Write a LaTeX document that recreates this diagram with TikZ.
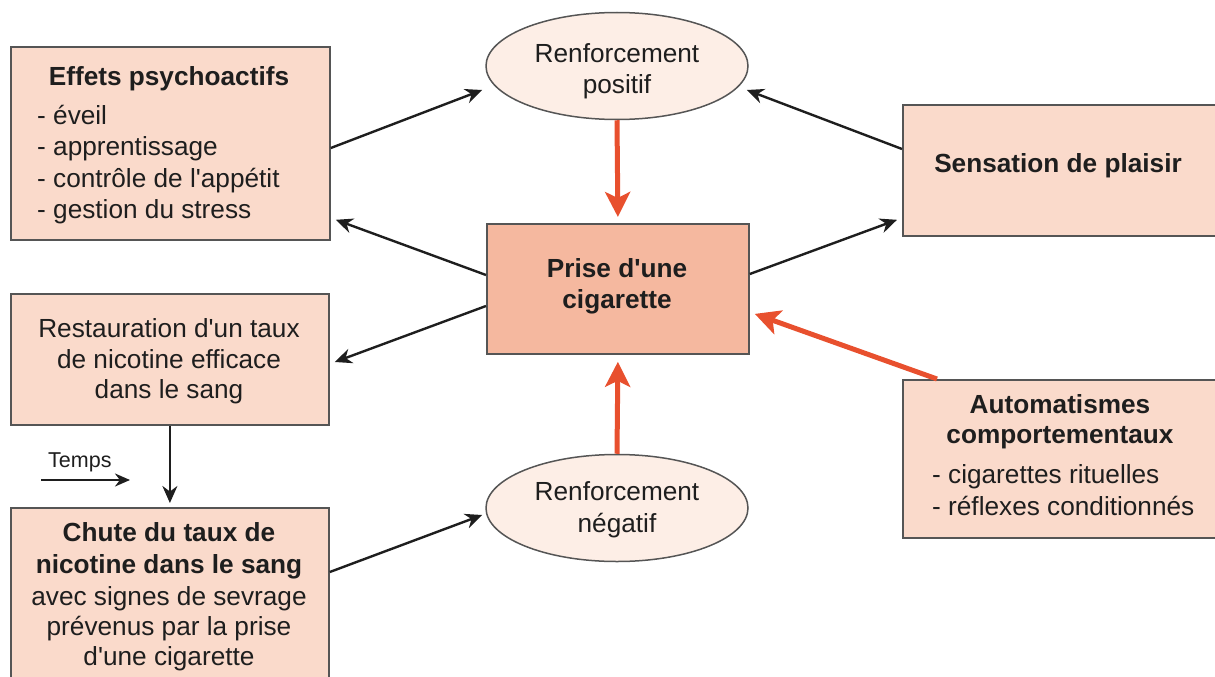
\documentclass[tikz,border=0pt]{standalone}
\usepackage{fontspec}
\setmainfont{Liberation Sans}[Ligatures=TeXOff]
\usetikzlibrary{arrows.meta,shapes.geometric,calc}
\definecolor{boxfill}{HTML}{FADACB}
\definecolor{prisefill}{HTML}{F5B89F}
\definecolor{ellfill}{HTML}{FDEEE6}
\definecolor{redarr}{HTML}{E8502E}
\definecolor{edgecol}{HTML}{555555}
\definecolor{txt}{HTML}{1E1E1E}
\begin{document}
\begin{tikzpicture}[x=1pt,y=-1pt,
 box/.style={draw=edgecol, line width=1.8pt, fill=boxfill, inner sep=0pt, anchor=north west},
 ell/.style={ellipse, draw=edgecol, line width=1.5pt, fill=ellfill, inner sep=0pt, minimum width=262pt, minimum height=107pt},
 lbl/.style={inner sep=0pt, text=txt, font=\fontsize{26.2}{31}\selectfont},
 lblb/.style={inner sep=0pt, text=txt, font=\fontsize{26.2}{31}\selectfont\bfseries},
 blk/.style={draw=txt, line width=2.4pt, -{Stealth[length=17pt,width=15pt]}},
 redarrow/.style={draw=redarr, line width=5pt, -{Stealth[length=25pt,width=25pt,inset=6pt]}}
]
\path[use as bounding box] (0,0) rectangle (1215,677);
\clip (0,0) rectangle (1215,677);

% boxes
\node[box, minimum width=319pt, minimum height=193pt] (eff) at (10,46) {};
\node[box, fill=prisefill, minimum width=262pt, minimum height=130pt] (prise) at (486,223) {};
\node[box, minimum width=320pt, minimum height=131pt] (sens) at (902,104) {};
\node[box, minimum width=318pt, minimum height=131pt] (rest) at (10,293) {};
\node[box, minimum width=318pt, minimum height=200pt] (chute) at (10,507) {};
\node[box, minimum width=320pt, minimum height=158pt] (auto) at (902,379) {};
\node[ell] (rpos) at (617,66) {};
\node[ell] (rneg) at (617,508) {};

% texts
\node[lblb, anchor=base] (effT) at (169,85) {Effets psychoactifs};
\node[lbl, anchor=base west] (eff1) at (37,124) {- éveil};
\node[lbl, anchor=base west] (eff2) at (37,155) {- apprentissage};
\node[lbl, anchor=base west] (eff3) at (37,187) {- contrôle de l'appétit};
\node[lbl, anchor=base west] (eff4) at (37,218) {- gestion du stress};

\node[lblb, anchor=base] (priseT1) at (617,277) {Prise d'une};
\node[lblb, anchor=base] (priseT2) at (617,308) {cigarette};

\node[lblb, anchor=base] (sensT) at (1058,172) {Sensation de plaisir};

\node[lbl, anchor=base] (rest1) at (169,337) {Restauration d'un taux};
\node[lbl, anchor=base] (rest2) at (169,368) {de nicotine efficace};
\node[lbl, anchor=base] (rest3) at (169,398) {dans le sang};

\node[lblb, anchor=base] (chute1) at (169,541) {Chute du taux de};
\node[lblb, anchor=base] (chute2) at (169,573) {nicotine dans le sang};
\node[lbl, anchor=base] (chute3) at (169,605) {avec signes de sevrage};
\node[lbl, anchor=base] (chute4) at (169,635) {prévenus par la prise};
\node[lbl, anchor=base] (chute5) at (169,665) {d'une cigarette};

\node[lbl, font=\fontsize{21.5}{25}\selectfont, anchor=base west] (temps) at (48,467) {Temps};

\node[lbl, anchor=base] (rpos1) at (617,63) {Renforcement};
\node[lbl, anchor=base] (rpos2) at (617,93) {positif};
\node[lbl, anchor=base] (rneg1) at (617,500) {Renforcement};
\node[lbl, anchor=base] (rneg2) at (617,532) {négatif};

\node[lblb, anchor=base] (auto1) at (1060,413) {Automatismes};
\node[lblb, anchor=base] (auto2) at (1060,443) {comportementaux};
\node[lbl, anchor=base west] (auto3) at (932,483) {- cigarettes rituelles};
\node[lbl, anchor=base west] (auto4) at (932,515) {- réflexes conditionnés};

% black connectors
\draw[blk] ($(eff.north east)+(0,102)$) -- ($(rpos.west)+(-3,24)$);
\draw[blk] ($(prise.north west)+(0,52)$) -- ($(eff.south east)+(5,-21)$);
\draw[blk] ($(sens.north west)+(0,45)$) -- ($(rpos.east)+(-2,24)$);
\draw[blk] ($(prise.north east)+(0,51)$) -- ($(sens.south west)+(-5,-17)$);
\draw[blk] ($(prise.north west)+(0,83)$) -- ($(rest.north east)+(5,69)$);
\draw[blk] ($(chute.north east)+(0,65)$) -- ($(rneg.west)+(-3,7)$);
\draw[blk] (rest.south) -- ($(chute.north)+(0,-4)$);
\coordinate (t0) at (41,480);
\coordinate (t1) at (130,480);
\draw[draw=txt, line width=2.2pt, -{Stealth[length=15pt,width=13pt]}] (t0) -- (t1);

% red connectors
\draw[redarrow] (rpos.south) -- ($(prise.north)+(0,-6)$);
\draw[redarrow] (rneg.north) -- ($(prise.south)+(0,7)$);
\draw[redarrow] ($(auto.north west)+(35,0)$) -- ($(prise.east)+(5,25)$);
\end{tikzpicture}
\end{document}
